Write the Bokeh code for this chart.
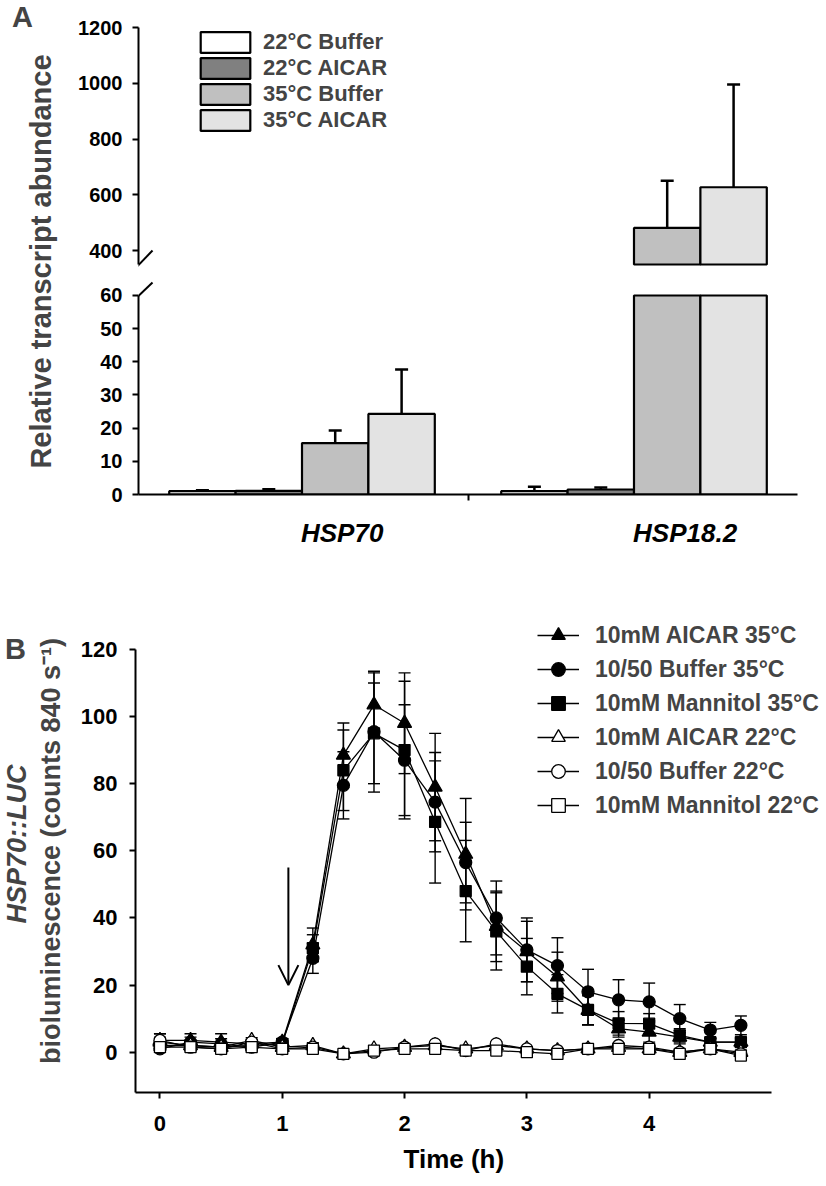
import math
import numpy as np
from bokeh.plotting import figure
from bokeh.layouts import row, column
from bokeh.models import (Range1d, ColumnDataSource, Whisker, TeeHead, Legend, LegendItem,
                          Label, Arrow, OpenHead, FixedTicker, Title)
from bokeh.embed import file_html
from bokeh.resources import INLINE

FONT = "Liberation Sans"

# ---------------- Panel A data ----------------
genes = ["HSP70", "HSP18.2"]
conditions = ["22°C Buffer", "22°C AICAR", "35°C Buffer", "35°C AICAR"]
buffer_22 = [1.0, 1.0]
aicar_22 = [1.1, 1.5]
buffer_35 = [15.5, 481.0]
aicar_35 = [24.3, 627.0]
buffer_22_err = [0.3, 1.3]
aicar_22_err = [0.5, 0.6]
buffer_35_err = [3.8, 169.0]
aicar_35_err = [13.4, 369.0]
upper_ticks = [400, 600, 800, 1000, 1200]
lower_ticks = [0, 10, 20, 30, 40, 50, 60]

# ---------------- Panel B data ----------------
time_h = [0, 0.25, 0.5, 0.75, 1.0, 1.25, 1.5, 1.75, 2.0, 2.25,
          2.5, 2.75, 3.0, 3.25, 3.5, 3.75, 4.0, 4.25, 4.5, 4.75]
aicar35 = [3.5, 3.5, 3.0, 2.5, 3.0, 32.0, 88.5, 103.5, 98.0, 79.0,
           59.0, 37.5, 30.0, 22.5, 12.5, 7.0, 6.0, 4.5, 3.0, 3.0]
aicar35_se = [2.0, 2.0, 2.5, 1.0, 1.0, 5.0, 9.6, 9.5, 15.0, 16.0,
              16.6, 10.5, 9.0, 7.3, 4.3, 2.5, 3.0, 2.0, 1.0, 1.5]
buffer35 = [1.0, 3.0, 2.5, 1.5, 3.0, 28.0, 79.5, 95.5, 87.0, 74.5,
            56.5, 40.0, 30.5, 25.8, 18.0, 15.6, 15.0, 10.0, 6.6, 8.0]
buffer35_se = [1.0, 1.5, 1.5, 1.0, 1.0, 4.5, 10.0, 18.0, 16.5, 14.8,
               12.0, 11.0, 9.5, 8.3, 6.7, 6.0, 5.6, 4.2, 2.3, 2.8]
mannitol35 = [2.0, 2.0, 1.5, 2.0, 2.5, 31.0, 84.0, 95.0, 90.0, 68.6,
              48.0, 36.0, 25.5, 17.4, 12.6, 8.6, 8.5, 5.0, 3.0, 3.0]
mannitol35_se = [1.5, 1.0, 1.0, 1.0, 1.0, 4.0, 12.0, 15.0, 20.5, 18.2,
                 15.1, 11.5, 8.4, 5.7, 4.5, 3.5, 3.0, 2.0, 1.0, 1.0]
aicar22 = [3.0, 2.0, 1.5, 3.5, 1.5, 2.0, -0.5, 1.0, 1.5, 2.0,
           1.0, 2.0, 1.0, 0.5, 1.0, 1.5, 1.0, 0.0, 1.0, 0.0]
aicar22_se = [2.5, 1.0, 1.0, 0.8, 0.5, 0.8, 0.6, 0.5, 0.6, 0.7,
              0.6, 0.8, 0.6, 0.5, 0.6, 0.6, 0.8, 0.5, 0.6, 0.6]
buffer22 = [3.5, 1.5, 1.0, 3.0, 1.0, 1.5, -0.5, 0.0, 1.5, 2.5,
            0.5, 2.5, 1.0, 0.5, 1.0, 2.0, 1.5, 0.0, 1.0, -0.5]
buffer22_se = [1.0, 1.0, 0.8, 0.8, 0.5, 0.6, 0.5, 0.5, 0.6, 0.6,
               0.5, 0.6, 0.6, 0.5, 0.6, 0.6, 0.6, 0.5, 0.6, 0.6]
mannitol22 = [1.5, 1.5, 1.0, 1.5, 1.0, 1.0, -0.5, 0.5, 1.0, 1.0,
              0.5, 0.5, 0.0, -0.5, 1.0, 1.0, 1.0, -0.5, 1.0, -1.0]
mannitol22_se = [1.0, 0.8, 0.8, 0.8, 0.5, 0.5, 0.5, 0.5, 0.5, 0.5,
                 0.5, 0.5, 0.5, 0.5, 0.5, 0.5, 0.5, 0.5, 0.5, 0.5]
x_ticks_b = [0, 1, 2, 3, 4]
y_ticks_b = [0, 20, 40, 60, 80, 100, 120]
# treatment arrow (annotation): time and vertical extent
arrow_time = 1.05
arrow_from, arrow_to = 55, 20


def style_axis(ax, size):
    ax.axis_line_width = 2
    ax.axis_line_color = "black"
    ax.major_tick_line_width = 2
    ax.major_tick_line_color = "black"
    ax.major_tick_out = 6
    ax.major_tick_in = 0
    ax.minor_tick_line_color = None
    ax.major_label_text_font = FONT
    ax.major_label_text_font_style = "bold"
    ax.major_label_text_font_size = size
    ax.major_label_text_color = "black"


def base_fig(**kw):
    p = figure(output_backend="svg", toolbar_location=None, title=None, **kw)
    p.outline_line_color = None
    p.background_fill_color = "white"
    p.border_fill_color = "white"
    p.xgrid.grid_line_color = None
    p.ygrid.grid_line_color = None
    return p


# ---------------- Panel A ----------------
LOW_MAX = 60
UP_MIN = 350
X0, X1 = 0.5075, 2.4925

la = base_fig(width=70, height=560, x_range=Range1d(0, 70), y_range=Range1d(560, 0),
              x_axis_location=None, y_axis_location=None,
              min_border_left=0, min_border_right=0, min_border_top=0, min_border_bottom=0)
la.add_layout(Label(x=22, y=16, text="A", text_font=FONT, text_font_style="bold",
                    text_font_size="29px", text_align="center", text_baseline="middle"))
la.add_layout(Label(x=40, y=261, text="Relative transcript abundance", angle=math.pi / 2,
                    text_font=FONT, text_font_style="bold", text_font_size="29px",
                    text_align="center", text_baseline="middle"))

ua = base_fig(width=756, height=279, x_range=Range1d(X0, X1), y_range=Range1d(296.2, 1200),
              x_axis_location=None,
              min_border_left=68, min_border_right=29, min_border_top=27, min_border_bottom=0)
lo = base_fig(width=756, height=281, x_range=Range1d(X0, X1), y_range=Range1d(0, 64.82),
              min_border_left=68, min_border_right=29, min_border_top=0, min_border_bottom=66)

for ax in ua.yaxis:
    style_axis(ax, "20px")
    ax.ticker = FixedTicker(ticks=upper_ticks)
    ax.major_label_standoff = 10
    ax.bounds = (UP_MIN, 1200)
for ax in lo.yaxis:
    style_axis(ax, "20px")
    ax.ticker = FixedTicker(ticks=lower_ticks)
    ax.major_label_standoff = 10
    ax.bounds = (0, LOW_MAX)

group_x = np.arange(1, len(genes) + 1, dtype=float)
offsets = [-0.3, -0.1, 0.1, 0.3]
bar_w = 0.2
colors_a = ["#ffffff", "#808080", "#c0c0c0", "#e3e3e3"]
series_a = [(conditions[0], buffer_22, buffer_22_err),
            (conditions[1], aicar_22, aicar_22_err),
            (conditions[2], buffer_35, buffer_35_err),
            (conditions[3], aicar_35, aicar_35_err)]

legend_items_a = []
for off, col, (name, vals, errs) in zip(offsets, colors_a, series_a):
    vals = np.array(vals, dtype=float)
    errs = np.array(errs, dtype=float)
    xs = group_x + off
    # lower segment of the broken axis
    src_lo = ColumnDataSource(dict(x=xs, top=np.minimum(vals, LOW_MAX)))
    lo.vbar(x="x", top="top", bottom=0, width=bar_w, source=src_lo,
            fill_color=col, line_color="black", line_width=2.2)
    m = (vals + errs) <= LOW_MAX
    src_lw = ColumnDataSource(dict(x=xs[m], top=vals[m], upper=(vals + errs)[m]))
    lo.add_layout(Whisker(source=src_lw, base="x", lower="top", upper="upper",
                          lower_head=None, upper_head=TeeHead(size=13, line_width=2.5),
                          line_width=2.5, line_color="black"))
    # legend key for the upper segment (hidden copy of the same bars)
    proxy = ua.vbar(x="x", top="top", bottom=0, width=bar_w, source=src_lo,
                    fill_color=col, line_color="black", line_width=2.2, visible=False)
    legend_items_a.append(LegendItem(label=name, renderers=[proxy]))
    up = vals > UP_MIN
    src_up = ColumnDataSource(dict(x=xs[up], top=vals[up], upper=(vals + errs)[up]))
    ua.add_layout(Whisker(source=src_up, base="x", lower="top", upper="upper",
                          lower_head=None, upper_head=TeeHead(size=13, line_width=2.5),
                          line_width=2.5, line_color="black"))
    ua.vbar(x="x", top="top", bottom=UP_MIN, width=bar_w, source=src_up,
            fill_color=col, line_color="black", line_width=2.2)

leg_a = Legend(items=legend_items_a, location=(56, 146), glyph_width=62, glyph_height=26,
               spacing=0, padding=0, label_standoff=7, label_text_font=FONT,
               label_text_font_style="bold", label_text_font_size="22px",
               border_line_color=None, background_fill_alpha=0,
               inactive_fill_alpha=0)
ua.add_layout(leg_a)

# x axis of panel A: gene names starting at group centres, one tick between groups
label_pos = [1.121, 2.154]
for ax in lo.xaxis:
    style_axis(ax, "26px")
    ax.bounds = (X0, X1)
    ax.ticker = FixedTicker(ticks=label_pos, minor_ticks=[1.5])
    ax.major_label_overrides = {label_pos[0]: genes[0], label_pos[1]: genes[1]}
    ax.major_label_text_font_style = "bold italic"
    ax.major_tick_line_color = None
    ax.major_tick_out = 0
    ax.minor_tick_line_color = "black"
    ax.minor_tick_line_width = 2
    ax.minor_tick_out = 6
    ax.minor_tick_in = 0
    ax.major_label_standoff = 17

# axis-break slashes
ua.add_layout(Arrow(end=None, x_start=0.4714, y_start=303.4, x_end=0.5497, y_end=400.2,
                    line_width=2, line_color="black"))
lo.add_layout(Arrow(end=None, x_start=0.4714, y_start=56.4, x_end=0.5497, y_end=63.9,
                    line_width=2, line_color="black"))

# ---------------- Panel B ----------------
lb = base_fig(width=68, height=626, x_range=Range1d(0, 68), y_range=Range1d(1186, 560),
              x_axis_location=None, y_axis_location=None,
              min_border_left=0, min_border_right=0, min_border_top=0, min_border_bottom=0)
lb.add_layout(Label(x=15, y=607, text="B", text_font=FONT, text_font_style="bold",
                    text_font_size="29px", text_align="center", text_baseline="middle"))
lb.add_layout(Label(x=16, y=862, text="HSP70::LUC", angle=math.pi / 2,
                    text_font=FONT, text_font_style="bold italic", text_font_size="27px",
                    text_align="center", text_baseline="middle"))
lb.add_layout(Label(x=50, y=871, text="bioluminescence (counts 840 s\u207b\u00b9)",
                    angle=math.pi / 2, text_font=FONT, text_font_style="bold",
                    text_font_size="27px", text_align="center", text_baseline="middle"))

pb = base_fig(width=758, height=626, x_range=Range1d(-0.2, 5.45), y_range=Range1d(-12, 131.0),
              min_border_left=67, min_border_right=0, min_border_top=52, min_border_bottom=94)
for ax in pb.xaxis:
    style_axis(ax, "22px")
    ax.bounds = (-0.2, 5.0)
    ax.ticker = FixedTicker(ticks=x_ticks_b)
    ax.major_label_standoff = 17
for ax in pb.yaxis:
    style_axis(ax, "22px")
    ax.bounds = (-12, 120)
    ax.ticker = FixedTicker(ticks=y_ticks_b)
    ax.major_label_standoff = 12

# x-axis title centred under the axis line (frame extends further right for the legend)
pb.add_layout(Title(text="Time (h)", align="left", offset=268, standoff=16,
                    text_font=FONT, text_font_style="bold", text_font_size="26px",
                    text_color="black"), "below")

specs = [("10mM AICAR 35°C", aicar35, aicar35_se, "triangle", "black", 14),
         ("10/50 Buffer 35°C", buffer35, buffer35_se, "circle", "black", 12),
         ("10mM Mannitol 35°C", mannitol35, mannitol35_se, "square", "black", 11),
         ("10mM AICAR 22°C", aicar22, aicar22_se, "triangle", "white", 14),
         ("10/50 Buffer 22°C", buffer22, buffer22_se, "circle", "white", 12),
         ("10mM Mannitol 22°C", mannitol22, mannitol22_se, "square", "white", 11)]

legend_items_b = []
for name, ys, se, mk, fill, sz in specs:
    ys = np.array(ys, dtype=float)
    se = np.array(se, dtype=float)
    src = ColumnDataSource(dict(x=time_h, y=ys, lower=ys - se, upper=ys + se))
    pb.add_layout(Whisker(source=src, base="x", lower="lower", upper="upper",
                          upper_head=TeeHead(size=12, line_width=1.4),
                          lower_head=TeeHead(size=12, line_width=1.4),
                          line_width=1.4, line_color="black"))
    ln = pb.line("x", "y", source=src, line_color="black", line_width=1.3)
    sc = pb.scatter("x", "y", source=src, marker=mk, size=sz, fill_color=fill,
                    line_color="black", line_width=1.3)
    legend_items_b.append(LegendItem(label=name, renderers=[ln, sc]))

leg_b = Legend(items=legend_items_b, location=(402, 270), glyph_width=42, glyph_height=34,
               spacing=0, padding=0, label_standoff=16, label_text_font=FONT,
               label_text_font_style="bold", label_text_font_size="23px",
               border_line_color=None, background_fill_alpha=0)
pb.add_layout(leg_b)

pb.add_layout(Arrow(end=OpenHead(size=20, line_width=2, line_color="black"),
                    x_start=arrow_time, y_start=arrow_from, x_end=arrow_time, y_end=arrow_to,
                    line_width=2, line_color="black"))

layout = column(row(la, column(ua, lo)), row(lb, pb))
open("out.html", "w").write(file_html(layout, INLINE))
